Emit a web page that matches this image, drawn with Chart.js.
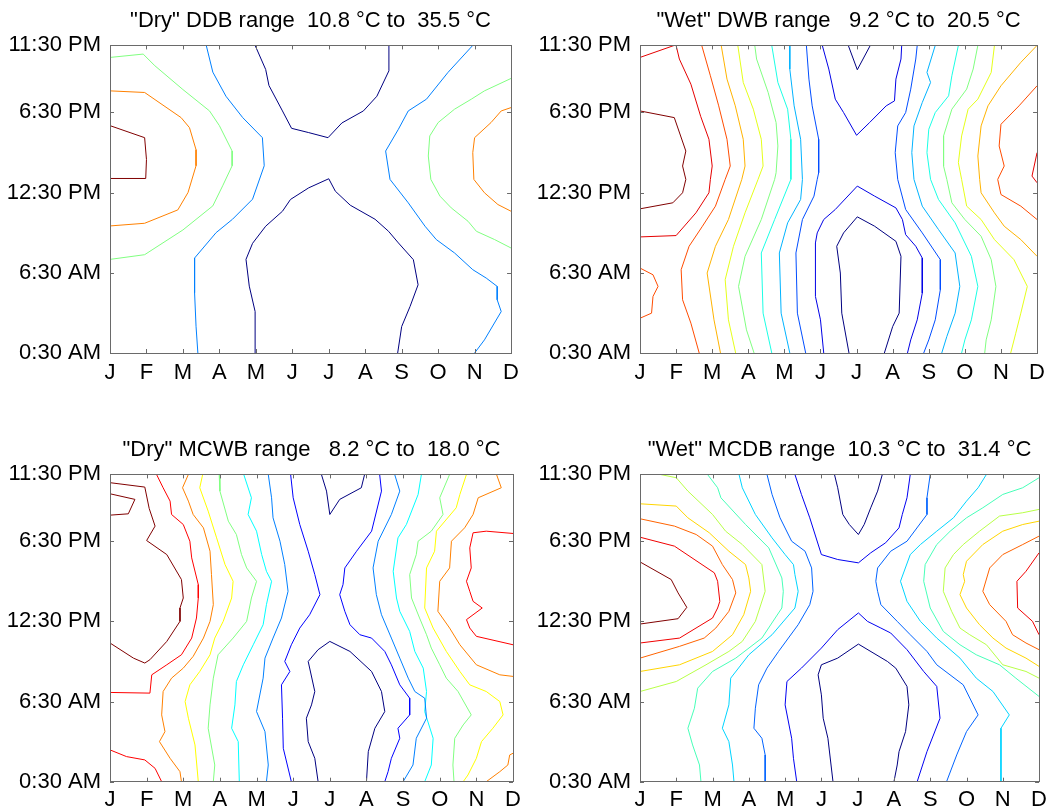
<!DOCTYPE html>
<html>
<head>
<meta charset="utf-8">
<script src="https://cdn.jsdelivr.net/npm/chart.js@4.4.1/dist/chart.umd.min.js"></script>
<style>
  body { margin: 0; background: #fff; }
  #wrap { position: relative; width: 1052px; height: 810px; }
  #wrap canvas { position: absolute; }
</style>
</head>
<body>
<div id="wrap">
  <canvas id="c1" width="526" height="405" style="left:0;top:0"></canvas>
  <canvas id="c2" width="526" height="405" style="left:526px;top:0"></canvas>
  <canvas id="c3" width="526" height="405" style="left:0;top:405px"></canvas>
  <canvas id="c4" width="526" height="405" style="left:526px;top:405px"></canvas>
</div>
<script>
// axis labels
const months = ['J', 'F', 'M', 'A', 'M', 'J', 'J', 'A', 'S', 'O', 'N', 'D'];
const hourTicks = [0.5, 6.5, 12.5, 18.5, 23.5];
const hourLabels = ['0:30 AM', '6:30 AM', '12:30 PM', '6:30 PM', '11:30 PM'];

const titles = [
    '"Dry" DDB range  10.8 °C to  35.5 °C',
    '"Wet" DWB range   9.2 °C to  20.5 °C',
    '"Dry" MCWB range   8.2 °C to  18.0 °C',
    '"Wet" MCDB range  10.3 °C to  31.4 °C'
];

// number of contour levels per panel (level 0 = coolest)
const levelCounts = [5, 11, 9, 10];

// contour lines: [level, month, hour, month, hour, ...]
const ddbContours = [
    [4, 0,17.5, 0.95,16.6, 1,14.97, 0.98,13.55, 0,13.55],
    [3, 0,20.1, 0.95,19.98, 1.95,18.1, 2.18,17.35, 2.36,15.7, 2.36,14.5, 2.14,12.5, 1.86,11.2, 0.95,10.2, 0,10.0],
    [2, 0,22.6, 0.91,22.85, 1.23,21.98, 2,20.2, 2.73,18.6, 3,17.5, 3.35,15.6, 3.35,14.5, 3.09,13, 2.82,11.5, 2,9.7, 0.95,7.85, 0,7.5],
    [1, 2.64,23.5, 2.82,21.5, 3.18,19.7, 3.64,18.1, 4.18,16.6, 4.23,14.5, 3.91,12, 3.36,10.5, 2.91,9.5, 2.32,7.6, 2.32,5, 2.36,2.5, 2.41,0.5],
    [0, 3.98,23.5, 4.27,21.7, 4.36,20.5, 4.73,18.6, 4.98,17.3, 5.45,16.98, 5.98,16.6, 6.36,17.7, 6.95,18.6, 7.32,19.7, 7.65,21.6, 7.65,23.5],
    [0, 3.98,0.5, 3.98,3.6, 3.82,5.5, 3.73,7.5, 3.91,8.7, 4.27,9.98, 4.73,11.1, 4.95,11.98, 5.45,12.85, 6,13.53, 6.18,12.6, 6.59,11.55, 7.27,10.5, 7.64,9.6, 7.91,8.73, 8.32,7.48, 8.45,5.6, 8.23,3.98, 8,2.48, 7.89,0.5],
    [1, 9.95,23.5, 9.27,21.48, 8.68,19.48, 8.18,18.6, 7.91,17.23, 7.56,15.6, 7.68,13.48, 8.18,11.73, 8.64,9.98, 8.95,8.98, 9.45,7.98, 9.95,6.73, 10.32,6.1, 10.62,5.48, 10.62,4.48, 10.73,3.6, 10.27,1.48, 10,0.5],
    [2, 11,21.03, 10.27,20.1, 9.91,19.48, 9.45,18.73, 9,17.73, 8.77,16.73, 8.73,15.23, 8.8,13.48, 9.05,12.23, 9.36,11.35, 9.82,10.35, 10.05,9.6, 10.55,8.98, 11,8.35],
    [3, 11,18.85, 10.73,18.6, 10.45,17.73, 10,16.6, 9.95,15.48, 9.98,13.48, 10.27,12.48, 10.64,11.6, 11,11.1]
];

const dwbContours = [
    [10, 0,18.6, 0.95,18.1, 1.27,15.6, 1.18,14.48, 1.27,13.48, 1.18,12.48, 0.91,11.73, 0,11.28],
    [9, 0,22.6, 0.95,23.5],
    [9, 1.0,23.5, 1.09,22.48, 1.41,20.6, 1.68,18.2, 1.91,16.48, 2.0,14.48, 1.95,13.48, 1.91,12.48, 1.55,10.98, 1.0,9.28, 0,9.18],
    [8, 1.71,23.5, 1.95,21.23, 2.18,18.98, 2.41,16.48, 2.5,14.48, 2.36,13.48, 2.09,11.48, 1.73,9.98, 1.36,8.48, 1.14,6.73, 1.18,4.48, 1.41,2.73, 1.64,0.5],
    [8, 0,6.85, 0.36,6.35, 0.5,5.48, 0.36,4.73, 0.32,3.48, 0,3.1],
    [7, 2.25,23.5, 2.41,20.98, 2.64,18.98, 2.86,16.48, 2.91,14.48, 2.82,13.48, 2.45,10.48, 2.09,8.48, 1.86,6.48, 2.05,2.98, 2.23,0.5],
    [6, 2.71,23.5, 2.86,20.73, 3.14,18.73, 3.36,16.48, 3.41,14.48, 3.27,13.48, 2.91,10.98, 2.59,8.48, 2.36,5.98, 2.45,2.98, 2.65,0.5],
    [5, 3.18,23.5, 3.23,22.48, 3.55,19.98, 3.77,17.73, 3.82,15.98, 3.77,13.98, 3.73,13.48, 3.36,10.48, 2.91,7.73, 2.73,5.48, 2.95,2.23, 3.16,0.5],
    [4, 3.65,23.5, 3.82,20.73, 4.09,18.73, 4.18,16.48, 4.18,13.48, 3.73,10.48, 3.36,7.98, 3.41,3.48, 3.65,0.5],
    [3, 4.15,23.5, 4.15,21.73, 4.27,18.98, 4.45,16.48, 4.5,13.48, 4.45,11.98, 4.09,10.23, 3.86,7.98, 3.91,3.48, 4.15,0.5],
    [2, 4.61,23.5, 4.68,20.98, 4.77,18.98, 4.95,16.48, 4.95,13.98, 4.91,13.48, 4.82,12.23, 4.5,10.48, 4.32,7.98, 4.36,3.48, 4.59,0.5],
    [1, 5.05,23.5, 5.23,21.73, 5.41,19.48, 5.64,18.48, 6.0,16.78, 6.36,17.73, 6.82,18.98, 7.05,19.35, 7.09,20.98, 7.23,22.48, 7.25,23.5],
    [1, 5.09,0.5, 5.0,2.98, 4.86,4.73, 4.86,8.73, 4.91,9.48, 5.09,10.48, 5.41,11.23, 6.02,12.98, 6.5,12.23, 7.09,11.35, 7.27,10.48, 7.36,9.35, 7.64,8.48, 7.82,7.6, 7.82,4.98, 7.68,2.98, 7.5,1.48, 7.41,0.5],
    [0, 5.77,23.5, 6.02,21.68, 6.38,23.5],
    [0, 5.79,0.5, 5.59,3.48, 5.55,6.48, 5.45,8.48, 5.64,9.48, 6.02,10.68, 6.5,9.98, 7.09,8.85, 7.23,7.73, 7.18,3.48, 7.0,2.48, 6.77,0.5],
    [2, 7.68,23.5, 7.64,22.48, 7.5,20.23, 7.36,18.48, 7.14,17.48, 7.07,15.48, 7.14,13.48, 7.36,11.23, 7.82,9.48, 8.32,7.48, 8.32,5.23, 8.18,2.98, 8.0,1.48, 7.86,0.5],
    [3, 8.18,23.5, 7.95,21.48, 8.05,20.73, 7.82,19.23, 7.59,17.48, 7.53,15.48, 7.59,13.48, 7.82,11.48, 8.27,9.73, 8.73,7.98, 8.86,5.48, 8.73,3.48, 8.5,1.73, 8.36,0.5],
    [4, 8.82,23.5, 8.64,21.23, 8.55,19.73, 8.18,18.48, 8.0,17.23, 7.95,15.48, 8.05,13.48, 8.27,11.98, 8.73,10.23, 9.18,7.73, 9.36,5.48, 9.18,2.98, 9.0,1.48, 8.91,0.5],
    [5, 9.36,23.5, 9.23,21.73, 9.05,20.23, 8.64,18.73, 8.41,16.73, 8.41,14.48, 8.5,13.48, 8.64,11.73, 9.0,10.48, 9.45,9.23, 9.73,7.48, 9.86,5.48, 9.73,2.98, 9.59,1.48, 9.55,0.5],
    [6, 9.82,23.5, 9.73,21.48, 9.36,19.48, 9.09,18.73, 8.91,16.73, 8.82,14.73, 8.91,13.48, 9.05,11.48, 9.45,10.48, 9.82,8.98, 10.36,7.48, 10.73,5.48, 10.55,3.48, 10.41,1.98, 10.27,0.5],
    [7, 11,23.5, 10.55,22.23, 10.0,20.48, 9.64,18.98, 9.45,17.48, 9.36,15.23, 9.41,13.48, 9.45,12.48, 9.82,10.98, 10.09,9.98, 10.55,8.98, 11,7.73],
    [8, 11,20.48, 10.5,18.98, 10.0,17.6, 9.95,15.98, 10.09,14.48, 9.91,13.48, 10.0,12.35, 10.55,11.48, 11,10.48],
    [9, 11,15.48, 10.86,13.73, 11,13.23]
];

const mcwbContours = [
    [8, 0,22.88, 0.95,22.55, 1.07,20.95, 1.23,19.63, 1.0,18.55, 1.55,17.5, 1.95,15.63, 2.0,14.25, 1.91,13.5, 1.91,12.5, 1.55,11.0, 1.09,9.63, 0.95,9.38, 0.64,9.75, 0,10.88],
    [8, 0,22.05, 0.68,21.63, 0.5,20.55, 0,20.45],
    [7, 1.27,23.5, 1.45,22.5, 1.64,21.5, 1.68,20.5, 2.0,19.75, 2.18,18.5, 2.23,17.25, 2.41,15.25, 2.41,14.25, 2.36,12.75, 2.23,11.25, 1.95,10.0, 1.55,9.25, 1.14,8.5, 1.09,7.13, 0,7.18],
    [7, 0,2.88, 0.45,2.38, 0.95,2.13, 1.23,1.5, 1.41,0.5],
    [6, 2.14,23.5, 1.98,22.5, 2.14,21.5, 2.27,20.5, 2.55,19.5, 2.73,17.75, 2.77,16.0, 2.82,13.75, 2.73,12.5, 2.55,11.25, 2.27,9.88, 2.0,9.0, 1.68,8.25, 1.45,7.25, 1.41,5.5, 1.5,4.25, 1.35,3.5, 1.64,2.25, 1.91,1.25, 1.95,0.5],
    [5, 2.53,23.5, 2.45,22.5, 2.68,20.75, 2.91,18.75, 3.14,16.75, 3.36,15.5, 3.32,14.25, 3.09,12.5, 2.86,11.25, 2.73,10.0, 2.45,8.75, 2.18,7.75, 2.05,6.5, 2.14,5.25, 2.32,3.25, 2.41,0.5],
    [4, 2.98,23.5, 3.0,22.25, 3.23,20.0, 3.45,19.0, 3.59,17.5, 3.73,16.5, 4.0,15.5, 3.86,14.25, 3.73,12.5, 3.36,11.25, 2.95,10.0, 2.82,8.25, 2.73,6.25, 2.68,4.5, 2.86,1.75, 2.82,0.5],
    [3, 3.65,23.5, 3.86,21.75, 3.77,20.5, 4.0,19.25, 4.14,17.5, 4.27,16.25, 4.41,15.5, 4.27,13.75, 4.18,12.25, 3.91,10.75, 3.64,9.25, 3.45,8.0, 3.41,6.25, 3.32,4.5, 3.5,3.5, 3.53,0.5],
    [2, 4.32,23.5, 4.41,21.75, 4.45,20.25, 4.64,18.5, 4.77,16.75, 4.86,14.75, 4.68,12.75, 4.45,11.25, 4.23,9.75, 4.18,8.25, 4.0,5.75, 4.23,4.25, 4.32,1.75, 4.27,0.5],
    [1, 4.93,23.5, 5.0,21.75, 5.18,19.75, 5.41,17.75, 5.59,16.0, 5.73,14.5, 5.45,13.0, 5.18,12.0, 4.95,10.75, 4.77,9.5, 4.91,8.75, 4.68,7.75, 4.71,5.25, 4.73,3.0, 4.95,0.5],
    [0, 5.77,23.5, 5.91,22.25, 6.0,20.5, 6.27,21.63, 6.86,22.5, 6.95,23.5],
    [0, 5.68,0.5, 5.59,2.25, 5.41,3.5, 5.36,5.25, 5.5,6.25, 5.59,7.25, 5.41,9.5, 5.68,10.38, 6.0,11.0, 6.55,10.25, 7.14,8.75, 7.41,7.25, 7.5,5.75, 7.23,4.5, 7.05,2.75, 7.0,0.5],
    [1, 7.36,23.5, 7.41,22.25, 7.14,19.25, 6.73,17.75, 6.41,16.5, 6.36,15.25, 6.27,14.5, 6.41,13.25, 6.55,12.25, 6.82,11.5, 7.14,11.25, 7.5,10.25, 7.68,9.25, 7.91,7.75, 8.18,6.75, 8.18,5.5, 7.86,4.5, 7.91,3.75, 7.68,2.25, 7.59,1.25, 7.5,0.5],
    [2, 7.77,23.5, 7.91,22.25, 7.68,20.5, 7.32,18.5, 7.18,16.5, 7.27,14.5, 7.41,13.0, 7.68,11.25, 7.91,9.75, 8.14,8.25, 8.32,7.25, 8.59,6.75, 8.64,5.25, 8.36,3.75, 8.27,1.75, 8.0,0.5],
    [3, 8.5,23.5, 8.41,22.0, 8.09,19.75, 7.86,18.75, 7.73,16.25, 7.82,14.25, 7.91,13.25, 8.18,11.75, 8.32,10.25, 8.55,9.0, 8.64,7.25, 8.59,5.75, 8.82,3.75, 8.77,1.75, 8.59,0.5],
    [4, 9.27,23.5, 9.0,21.75, 9.09,20.5, 8.77,19.25, 8.41,18.5, 8.36,17.5, 8.18,16.0, 8.23,14.25, 8.45,12.75, 8.64,11.5, 8.77,10.5, 9.0,9.25, 9.18,8.25, 9.5,7.25, 9.86,5.5, 9.64,4.75, 9.41,3.75, 9.36,1.75, 9.39,0.5],
    [5, 9.73,23.5, 9.55,22.0, 9.45,21.0, 8.91,19.25, 8.86,17.75, 8.64,16.5, 8.59,13.5, 8.82,12.0, 9.18,10.25, 9.55,8.75, 9.82,7.75, 10.27,7.25, 10.64,6.5, 10.73,5.5, 10.45,4.5, 10.14,3.5, 10.0,2.25, 9.77,1.0, 9.64,0.5],
    [6, 10.55,23.5, 10.68,22.5, 10.05,21.75, 9.91,20.5, 9.68,19.5, 9.32,18.5, 9.27,16.5, 9.0,15.5, 8.95,13.25, 9.27,12.0, 9.55,10.75, 10.0,9.25, 10.64,8.5, 11,8.38],
    [6, 10.27,0.5, 10.64,1.25, 10.86,1.75, 10.91,2.5, 11,2.63],
    [7, 11,19.08, 10.27,19.25, 9.91,19.13, 9.82,18.0, 9.86,16.5, 9.73,15.5, 9.82,14.75, 9.91,14.0, 10.16,13.5, 9.73,12.63, 9.82,12.0, 10.0,11.38, 11,10.75]
];

const mcdbContours = [
    [9, 0,16.95, 0.86,15.63, 1.05,14.63, 1.29,13.55, 1.05,12.7, 0,12.3],
    [8, 0,18.8, 0.95,18.13, 2.05,16.13, 2.14,15.5, 2.2,14.0, 2.14,13.5, 2.0,12.75, 1.09,11.25, 0,10.88],
    [7, 0,20.18, 0.95,19.63, 1.55,19.0, 2.0,18.13, 2.27,16.75, 2.55,15.63, 2.64,14.63, 2.45,13.25, 2.09,12.0, 1.77,11.25, 1.09,10.63, 0,9.75],
    [6, 0,21.3, 1.0,21.13, 1.32,20.25, 1.91,19.13, 2.45,17.75, 2.91,16.75, 3.0,15.75, 3.05,14.75, 2.86,13.0, 2.55,11.5, 2.0,10.25, 1.09,9.25, 0,8.75],
    [5, 0.55,23.5, 1.0,23.25, 1.32,22.25, 2.0,20.5, 2.36,19.25, 2.82,18.25, 3.36,16.75, 3.45,14.75, 3.18,12.5, 2.82,11.0, 2.45,10.25, 1.82,9.25, 1.0,8.0, 0,7.25],
    [4, 1.86,23.5, 2.14,22.5, 2.23,21.75, 2.91,19.75, 3.55,18.0, 3.91,15.75, 3.95,14.75, 3.91,13.5, 3.36,11.25, 2.64,9.75, 2.0,8.75, 1.59,7.5, 1.5,6.0, 1.32,4.5, 1.45,3.25, 1.64,1.75, 1.68,0.5],
    [3, 2.73,23.5, 2.82,22.5, 3.18,20.5, 3.64,18.75, 4.0,17.5, 4.23,16.75, 4.27,16.0, 4.36,14.75, 4.27,13.5, 3.64,11.5, 3.0,10.0, 2.5,8.25, 2.45,6.25, 2.27,4.5, 2.45,3.5, 2.55,1.75, 2.59,0.5],
    [2, 3.5,23.5, 3.64,22.0, 3.86,20.25, 4.18,18.5, 4.55,17.75, 4.73,16.5, 4.77,14.75, 4.68,13.75, 4.36,12.25, 3.82,10.25, 3.5,9.0, 3.27,7.75, 3.18,6.0, 3.14,4.5, 3.36,3.75, 3.45,2.5, 3.45,0.5],
    [1, 4.27,23.5, 4.45,22.0, 4.68,20.25, 5.0,17.5, 5.45,17.13, 6.02,16.88, 6.36,17.63, 6.77,18.38, 7.14,19.5, 7.23,20.5, 7.36,21.75, 7.45,23.5],
    [0, 5.36,23.5, 5.45,22.5, 5.59,20.5, 5.77,19.75, 6.02,19.0, 6.18,19.75, 6.36,21.0, 6.55,22.25, 6.68,23.5],
    [1, 4.32,0.5, 4.23,2.25, 4.18,3.75, 4.0,6.25, 4.05,8.0, 4.45,9.0, 5.0,10.5, 5.45,11.88, 6.02,13.13, 6.27,12.5, 6.64,12.0, 6.91,11.63, 7.36,10.38, 7.82,8.75, 8.18,7.63, 8.27,5.25, 7.91,2.75, 7.64,0.5],
    [0, 5.32,0.5, 5.18,3.75, 5.05,5.25, 5.0,7.0, 4.91,8.5, 5.0,9.25, 5.45,9.75, 6.02,10.8, 6.82,9.5, 7.05,9.0, 7.36,7.63, 7.41,6.25, 7.32,4.25, 7.14,2.75, 7.09,1.75, 7.0,0.5],
    [2, 8.0,23.5, 7.91,21.75, 7.91,20.5, 7.36,18.5, 6.91,17.75, 6.55,16.5, 6.5,15.5, 6.55,14.75, 6.64,13.75, 7.09,12.5, 7.45,11.5, 7.91,10.25, 8.18,9.25, 8.91,7.75, 9.32,5.5, 9.0,4.25, 8.73,2.5, 8.45,0.5],
    [3, 9.55,23.5, 9.32,22.5, 9.0,21.5, 8.64,20.25, 8.18,19.25, 7.73,18.25, 7.45,17.5, 7.18,15.5, 7.36,14.0, 7.73,12.5, 8.18,11.25, 8.82,9.75, 9.27,8.25, 9.73,7.25, 10.18,5.5, 9.95,4.5, 9.95,0.5],
    [4, 11,23.25, 10.55,22.5, 10.0,22.0, 9.45,21.0, 9.0,20.25, 8.55,19.25, 8.18,18.25, 7.86,16.75, 7.82,15.5, 8.0,13.5, 8.36,11.75, 8.82,10.75, 9.27,10.0, 9.91,9.25, 10.36,8.25, 11,6.88],
    [5, 11,20.88, 10.55,20.63, 9.91,20.38, 9.36,19.25, 8.91,18.25, 8.64,17.5, 8.41,16.5, 8.36,14.75, 8.59,13.25, 8.82,12.0, 9.09,11.5, 9.55,10.75, 10.0,9.25, 10.64,8.75, 11,8.25],
    [6, 11,20.0, 10.55,19.75, 10.0,19.25, 9.45,18.25, 9.0,17.0, 8.91,16.0, 8.95,15.5, 8.82,14.5, 9.0,13.5, 9.36,12.25, 9.73,11.25, 10.09,10.5, 10.64,9.75, 11,9.13],
    [7, 11,18.88, 10.55,18.25, 10.0,17.5, 9.64,16.5, 9.45,14.75, 9.64,13.75, 10.09,12.5, 10.27,11.5, 10.64,10.88, 11,10.38],
    [8, 11,17.63, 10.64,16.25, 10.39,15.5, 10.41,13.5, 10.82,12.5, 11,11.5]
];

const FONT = { family: '"Liberation Sans", Arial, sans-serif', size: 22 };

// MATLAB-like jet colormap
function jet(t) {
    const c = v => Math.round(255 * Math.min(1, Math.max(0, v)));
    return 'rgb(' + c(1.5 - Math.abs(4 * t - 3)) + ',' + c(1.5 - Math.abs(4 * t - 2)) + ',' + c(1.5 - Math.abs(4 * t - 1)) + ')';
}

// box around the plot with small inward ticks
const framePlugin = {
    id: 'frame',
    afterDatasetsDraw(chart) {
        const { ctx, chartArea: a, scales: { x, y } } = chart;
        ctx.save();
        ctx.strokeStyle = '#6a6a6a';
        ctx.lineWidth = 1;
        ctx.beginPath();
        x.ticks.forEach(t => {
            const px = Math.round(x.getPixelForValue(t.value)) + 0.5;
            ctx.moveTo(px, a.bottom); ctx.lineTo(px, a.bottom - 4);
            ctx.moveTo(px, a.top); ctx.lineTo(px, a.top + 4);
        });
        y.ticks.forEach(t => {
            const py = Math.round(y.getPixelForValue(t.value)) + 0.5;
            ctx.moveTo(a.left, py); ctx.lineTo(a.left + 4, py);
            ctx.moveTo(a.right, py); ctx.lineTo(a.right - 4, py);
        });
        ctx.stroke();
        ctx.strokeRect(Math.round(a.left) + 0.5, Math.round(a.top) + 0.5,
            Math.round(a.right - a.left), Math.round(a.bottom - a.top));
        ctx.restore();
    }
};

function makePanel(id, title, contours, nLevels, layout) {
    const datasets = contours.map(line => {
        const pts = [];
        for (let i = 1; i < line.length; i += 2) pts.push({ x: line[i], y: line[i + 1] });
        return {
            data: pts,
            showLine: true,
            borderColor: jet(line[0] / (nLevels - 1)),
            borderWidth: 1,
            pointRadius: 0,
            fill: false,
            tension: 0
        };
    });

    new Chart(document.getElementById(id), {
        type: 'scatter',
        data: { datasets },
        plugins: [framePlugin],
        options: {
            responsive: false,
            animation: false,
            layout: { padding: { top: layout.top, right: layout.right, left: 0, bottom: 0 } },
            plugins: {
                legend: { display: false },
                tooltip: { enabled: false },
                title: {
                    display: true,
                    text: title,
                    fullSize: false,
                    color: '#000',
                    font: { family: FONT.family, size: FONT.size, weight: 'normal' },
                    padding: { top: 8, bottom: 11 }
                }
            },
            scales: {
                x: {
                    type: 'linear',
                    min: 0,
                    max: 11,
                    grid: { display: false, drawTicks: false },
                    border: { display: false },
                    ticks: {
                        stepSize: 1,
                        autoSkip: false,
                        maxRotation: 0,
                        padding: layout.xpad,
                        color: '#000',
                        font: FONT,
                        callback: v => months[v]
                    },
                    afterFit: s => { s.height = layout.xh; }
                },
                y: {
                    type: 'linear',
                    min: 0.5,
                    max: 23.5,
                    grid: { display: false, drawTicks: false },
                    border: { display: false },
                    afterBuildTicks: s => { s.ticks = hourTicks.map(v => ({ value: v })); },
                    ticks: {
                        padding: 9,
                        color: '#000',
                        font: FONT,
                        callback: (v, i) => hourLabels[i]
                    },
                    afterFit: s => { s.width = layout.yw; }
                }
            }
        }
    });
}

makePanel('c1', titles[0], ddbContours, levelCounts[0], { top: 0, right: 13, yw: 110, xh: 52, xpad: 7 });
makePanel('c2', titles[1], dwbContours, levelCounts[1], { top: 0, right: 9, yw: 114, xh: 52, xpad: 7 });
makePanel('c3', titles[2], mcwbContours, levelCounts[2], { top: 24, right: 13, yw: 110, xh: 28.3, xpad: 5 });
makePanel('c4', titles[3], mcdbContours, levelCounts[3], { top: 24, right: 9, yw: 114, xh: 28.3, xpad: 5 });
</script>
</body>
</html>
